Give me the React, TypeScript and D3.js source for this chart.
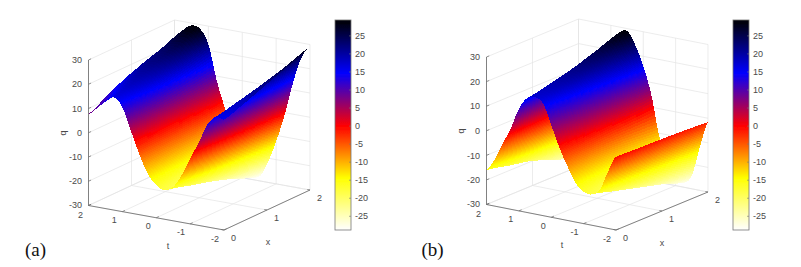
import React, { useMemo } from 'react';
import * as d3 from 'd3';

const tValues = [2, 1.75, 1.5, 1.25, 1, 0.75, 0.5, 0.25, 0, -0.25, -0.5, -0.75, -1, -1.25, -1.5, -1.75, -2];
const xValues = [0, 0.5, 1, 1.5, 2];
const qTicks = [-30, -20, -10, 0, 10, 20, 30];
const tTicks = [2, 1, 0, -1, -2];
const xTicks = [0, 1, 2];
const barTicks = [25, 20, 15, 10, 5, 0, -5, -10, -15, -20, -25];
const barDomain = [-28.8, -14.4, 0, 14.7, 29.4];
const barColors = ['#ffffff', '#ffff00', '#ff0000', '#0000ff', '#000000'];

// q, one row per x value, one column per t value
const qA = [
  [7.7, 10.8, 14, 16.4, 13, 4, -5, -12.5, -16.5, -18, -16, -10.5, -3, 4, 12, 16, 15.5],
  [12.5, 15.5, 18, 18.5, 15, 4.8, -4.8, -12.8, -17.8, -20, -18.8, -13.2, -5.2, 2.8, 11.8, 18, 18.5],
  [16.5, 20, 21.5, 21, 17.5, 5.5, -4.5, -13, -19, -22, -21.5, -16, -7.5, 1.5, 12, 20, 22],
  [19.5, 23, 24.5, 24.3, 20, 7, -3.8, -13, -20, -24.5, -24.7, -19, -10, 0.3, 12.5, 22, 25.5],
  [22.5, 26.5, 29, 28.3, 22.5, 8, -3, -13, -21, -27.5, -28.3, -22, -12.5, -1, 13, 24, 29],
];
const qB = [
  [-16, -11, -4, 3, 11.5, 16.5, 17.5, 15.5, 7.5, -1, -8, -14, -17, -17.5, -15, -7, -0.2],
  [-18, -12.8, -4.5, 4.5, 13.5, 18.5, 19.5, 17.5, 9.5, 0.5, -8.8, -15.5, -19, -20, -17.2, -8.2, -0.5],
  [-20, -14.5, -5, 6, 16, 21, 22, 19.5, 11.5, 2, -9.5, -17, -21, -22.5, -19.5, -9.5, -0.7],
  [-23.5, -16, -5, 8, 19, 24.2, 25.2, 21.5, 13.5, 3.5, -10.5, -18.5, -23, -25, -22, -11, -1],
  [-26, -18, -5, 10, 22, 27.5, 29, 24, 16, 5, -11.5, -20, -24.5, -28, -24.5, -12.3, -1.5],
];

const color = d3.scaleLinear<string>().domain(barDomain).range(barColors);

// catmull-rom through a list, u in index units; only refines the drawing of the mesh
function spline(vals: number[], u: number) {
  const i = Math.min(Math.floor(u), vals.length - 2);
  const f = u - i;
  const p0 = vals[Math.max(i - 1, 0)];
  const p1 = vals[i];
  const p2 = vals[i + 1];
  const p3 = vals[Math.min(i + 2, vals.length - 1)];
  return 0.5 * (2 * p1 + (p2 - p0) * f + (2 * p0 - 5 * p1 + 4 * p2 - p3) * f * f + (3 * p1 - p0 - 3 * p2 + p3) * f * f * f);
}

function sample(grid: number[][], rowU: number, colU: number) {
  return spline(grid.map(r => spline(r, colU)), rowU);
}

function Panel({ grid, layout, label }: any) {
  const { ox, oy, tdx, tdy, xdx, xdy, qh, bar, barLabel } = layout;
  // screen offsets per data axis
  const tX = d3.scaleLinear().domain([2, -2]).range([0, tdx]);
  const tY = d3.scaleLinear().domain([2, -2]).range([0, tdy]);
  const xX = d3.scaleLinear().domain([0, 2]).range([0, xdx]);
  const xY = d3.scaleLinear().domain([0, 2]).range([0, xdy]);
  const qY = d3.scaleLinear().domain([-30, 30]).range([0, -qh]);
  const project = (t: number, x: number, q: number): [number, number] => [
    ox + tX(t) + xX(x),
    oy + tY(t) + xY(x) + qY(q),
  ];

  const quads = useMemo(() => {
    const rows = 36;
    const cols = 240;
    const rowU = d3.scaleLinear().domain([0, rows]).range([0, xValues.length - 1]);
    const colU = d3.scaleLinear().domain([0, cols]).range([0, tValues.length - 1]);
    const xAt = d3.scaleLinear().domain([0, rows]).range([0, 2]);
    const tAt = d3.scaleLinear().domain([0, cols]).range([2, -2]);
    const pts: { p: [number, number]; q: number }[][] = d3.range(rows + 1).map(r =>
      d3.range(cols + 1).map(c => {
        const q = sample(grid, rowU(r), colU(c));
        return { p: project(tAt(c), xAt(r), q), q };
      }),
    );
    const out: { d: string; fill: string }[] = [];
    const line = d3.line();
    // far to near: high x first, high t first
    for (let r = rows - 1; r >= 0; r--) {
      for (let c = 0; c < cols; c++) {
        const a = pts[r][c];
        const b = pts[r][c + 1];
        const e = pts[r + 1][c + 1];
        const f = pts[r + 1][c];
        out.push({
          d: line([a.p, b.p, e.p, f.p]) + 'Z',
          fill: color((a.q + b.q + e.q + f.q) / 4),
        });
      }
    }
    return out;
  }, [grid]);

  const seg = (a: [number, number, number], b: [number, number, number]) => {
    const [x1, y1] = project(a[0], a[1], a[2]);
    const [x2, y2] = project(b[0], b[1], b[2]);
    return { x1, y1, x2, y2 };
  };

  const gridLines = [
    ...qTicks.map(q => seg([2, 0, q], [2, 2, q])),
    ...qTicks.map(q => seg([2, 2, q], [-2, 2, q])),
    ...tTicks.map(t => seg([t, 0, -30], [t, 2, -30])),
    ...tTicks.map(t => seg([t, 2, -30], [t, 2, 30])),
    ...xTicks.map(x => seg([-2, x, -30], [2, x, -30])),
    ...xTicks.map(x => seg([2, x, -30], [2, x, 30])),
  ];
  const axisLines = [seg([2, 0, -30], [2, 0, 30]), seg([2, 0, -30], [-2, 0, -30]), seg([-2, 0, -30], [-2, 2, -30])];
  const tickLines = [
    ...qTicks.map(q => seg([2, 0, q], [2, 0.06, q])),
    ...tTicks.map(t => seg([t, 0, -30], [t, 0.06, -30])),
    ...xTicks.map(x => seg([-2, x, -30], [-1.92, x, -30])),
  ];

  const textStyle = { fontFamily: 'Liberation Sans, Arial, sans-serif', fontSize: 9, fill: '#4a4a4a' };
  const barY = d3.scaleLinear().domain([-28.8, 29.4]).range([bar.y1, bar.y0]);

  return (
    <g>
      <g filter="url(#soft)">
        {gridLines.map((l, i) => (
          <line key={i} {...l} stroke="#e4e4e4" strokeWidth={0.7} />
        ))}
        {quads.map((q, i) => (
          <path key={i} d={q.d} fill={q.fill} shapeRendering="crispEdges" />
        ))}
        {axisLines.map((l, i) => (
          <line key={i} {...l} stroke="#666" strokeWidth={0.8} />
        ))}
        {tickLines.map((l, i) => (
          <line key={i} {...l} stroke="#666" strokeWidth={0.7} />
        ))}
        <rect x={bar.x} y={bar.y0} width={bar.w} height={bar.y1 - bar.y0} fill={`url(#bar)`} stroke="#777" strokeWidth={0.8} />
        {barTicks.map(v => (
          <line key={v} x1={bar.x + bar.w - 2} x2={bar.x + bar.w} y1={barY(v)} y2={barY(v)} stroke="#777" strokeWidth={0.6} />
        ))}
      </g>
      {qTicks.map(q => (
        <text key={q} x={ox - 6.5} y={project(2, 0, q)[1] + (q === -30 ? 2.5 : 3.2)} textAnchor="end" style={textStyle}>
          {q}
        </text>
      ))}
      {tTicks.map(t => {
        const [px, py] = project(t, 0, -30);
        return (
          <text key={t} x={px - 8 + (t < 0 ? -1 : 0)} y={py + (t === 2 ? 12.5 : 11.5)} textAnchor="middle" style={textStyle}>
            {t}
          </text>
        );
      })}
      {xTicks.map(x => {
        const [px, py] = project(-2, x, -30);
        return (
          <text key={x} x={px + 9.5} y={py + 11} textAnchor="middle" style={textStyle}>
            {x}
          </text>
        );
      })}
      <text x={layout.tLabel[0]} y={layout.tLabel[1]} textAnchor="middle" style={textStyle}>t</text>
      <text x={layout.xLabel[0]} y={layout.xLabel[1]} textAnchor="middle" style={textStyle}>x</text>
      <text transform={`translate(${layout.qLabel[0]},${layout.qLabel[1]}) rotate(-90)`} textAnchor="middle" style={textStyle}>q</text>
      {barTicks.map(v => (
        <text key={v} x={barLabel} y={barY(v) + 3.2} style={textStyle}>
          {v}
        </text>
      ))}
      <text x={layout.caption[0]} y={layout.caption[1]} style={{ fontFamily: 'Liberation Serif, Times New Roman, serif', fontSize: 19, fill: '#111' }}>
        {label}
      </text>
    </g>
  );
}

const layoutA = {
  ox: 88.5, oy: 205.5, tdx: 135.5, tdy: 24.5, xdx: 86, xdy: -40, qh: 145.5,
  bar: { x: 335, w: 16, y0: 20, y1: 230 }, barLabel: 355,
  tLabel: [168, 249], xLabel: [268, 245], qLabel: [66, 133], caption: [25, 256],
};
const layoutB = {
  ox: 486.5, oy: 204.5, tdx: 129.5, tdy: 25.5, xdx: 92, xdy: -38, qh: 147.5,
  bar: { x: 733, w: 16, y0: 20, y1: 230 }, barLabel: 753,
  tLabel: [562, 248], xLabel: [662, 246], qLabel: [464, 131], caption: [421.5, 256],
};

export default function App() {
  return (
    <svg width={801} height={267} style={{ position: 'absolute', left: 0, top: 0, background: '#fff' }}>
      <defs>
        <filter id="soft" x="-5%" y="-5%" width="110%" height="110%">
          <feGaussianBlur stdDeviation="0.45" />
        </filter>
        <linearGradient id="bar" x1="0" y1="1" x2="0" y2="0">
          {barDomain.map((v, i) => (
            <stop key={v} offset={(v - barDomain[0]) / (barDomain[4] - barDomain[0])} stopColor={barColors[i]} />
          ))}
        </linearGradient>
      </defs>
      <Panel grid={qA} layout={layoutA} label="(a)" />
      <Panel grid={qB} layout={layoutB} label="(b)" />
    </svg>
  );
}
